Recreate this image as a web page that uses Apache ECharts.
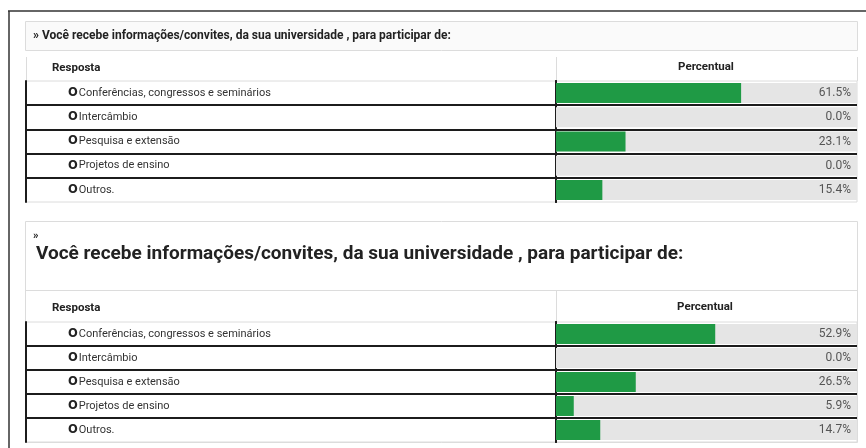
<!DOCTYPE html>
<html>
<head>
<meta charset="utf-8">
<script src="https://cdn.jsdelivr.net/npm/echarts@6/dist/echarts.min.js"></script>
<style>
html,body{margin:0;padding:0;background:#fff;}
#chart{width:866px;height:448px;}
</style>
</head>
<body>
<div id="chart"></div>
<script>
const categories = ['Conferências, congressos e seminários', 'Intercâmbio', 'Pesquisa e extensão', 'Projetos de ensino', 'Outros.'];
const valuesTop = [61.5, 0.0, 23.1, 0.0, 15.4];
const valuesBottom = [52.9, 0.0, 26.5, 5.9, 14.7];
const fullScale = [100, 100, 100, 100, 100];
const titleText = 'Você recebe informações/convites, da sua universidade , para participar de:';
const headerLeft = 'Resposta';
const headerRight = 'Percentual';

const FONT = 'Roboto, "Noto Sans", sans-serif';
const GREEN = '#1f9a45';
const TRACK = '#e5e5e5';
const DARK = '#1c1c1c';
const LIGHT = '#dcdcdc';

const chart = echarts.init(document.getElementById('chart'), null, {renderer: 'canvas'});

function leftY(gridIndex) {
  return {
    type: 'category', gridIndex: gridIndex, data: categories, inverse: true,
    axisLine: {show: true, lineStyle: {color: DARK, width: 2}},
    axisTick: {show: false},
    axisLabel: {
      inside: true, margin: 42, fontFamily: FONT,
      formatter: v => '{o|O}{t|' + v + '}',
      rich: {
        o: {fontFamily: 'DejaVu Sans', fontWeight: 'bold', fontSize: 11.5, color: '#222', padding: [0, 1, 0, 0]},
        t: {fontFamily: FONT, fontSize: 11, color: '#333'}
      }
    },
    splitLine: {show: true, lineStyle: {color: ['transparent', DARK, DARK, DARK, DARK, 'transparent'], width: 2}}
  };
}
function rightY(gridIndex) {
  return {
    type: 'category', gridIndex: gridIndex, data: categories, inverse: true,
    axisLine: {show: true, lineStyle: {color: DARK, width: 2}},
    axisTick: {show: false}, axisLabel: {show: false},
    splitLine: {show: true, lineStyle: {color: ['transparent', DARK, DARK, DARK, DARK, 'transparent'], width: 2}}
  };
}
function rightEdgeY(gridIndex) {
  return {
    type: 'category', gridIndex: gridIndex, data: categories, inverse: true, position: 'right',
    axisLine: {show: true, lineStyle: {color: DARK, width: 2}},
    axisTick: {show: false}, axisLabel: {show: false}, splitLine: {show: false}
  };
}
function hiddenX(gridIndex) {
  return {type: 'value', gridIndex: gridIndex, min: 0, max: 100, show: false, splitLine: {show: false}};
}
function trackSeries(axisIdx, vals) {
  return {
    type: 'bar', xAxisIndex: axisIdx, yAxisIndex: axisIdx, data: fullScale, barWidth: 20, barGap: '-100%',
    itemStyle: {color: TRACK}, silent: true,
    label: {show: true, position: 'insideRight', distance: 6, fontFamily: FONT, fontSize: 12, color: '#555',
      formatter: p => vals[p.dataIndex].toFixed(1) + '%'}
  };
}
function valueSeries(axisIdx, vals) {
  return {
    type: 'bar', xAxisIndex: axisIdx, yAxisIndex: axisIdx, data: vals, barWidth: 20, barGap: '-100%',
    itemStyle: {color: GREEN}, silent: true
  };
}

const gridBorder = {show: true, borderColor: LIGHT, borderWidth: 1, backgroundColor: 'transparent'};

const option = {
  animation: false,
  backgroundColor: '#fff',
  grid: [
    Object.assign({left: 26, top: 81, width: 530, height: 121}, gridBorder),
    Object.assign({left: 556, top: 81, width: 301, height: 121}, gridBorder),
    Object.assign({left: 26, top: 322, width: 530, height: 120}, gridBorder),
    Object.assign({left: 556, top: 322, width: 301, height: 120}, gridBorder)
  ],
  xAxis: [hiddenX(0), hiddenX(1), hiddenX(2), hiddenX(3), hiddenX(1), hiddenX(3)],
  yAxis: [leftY(0), rightY(1), leftY(2), rightY(3), rightEdgeY(1), rightEdgeY(3)],
  series: [
    trackSeries(1, valuesTop), valueSeries(1, valuesTop),
    trackSeries(3, valuesBottom), valueSeries(3, valuesBottom)
  ],
  graphic: [
    {type: 'line', shape: {x1: 8, y1: 11, x2: 866, y2: 11}, style: {stroke: '#333', lineWidth: 1.5}},
    {type: 'line', shape: {x1: 9, y1: 11, x2: 9, y2: 448}, style: {stroke: '#333', lineWidth: 1.5}},
    {type: 'rect', shape: {x: 25.5, y: 21.5, width: 832, height: 29}, style: {fill: '#fafafa', stroke: LIGHT, lineWidth: 1}},
    {type: 'text', x: 33, y: 36, style: {text: '» ' + titleText, font: 'bold 12px ' + FONT, fill: '#222', textVerticalAlign: 'middle'}},
    {type: 'line', shape: {x1: 26.5, y1: 57, x2: 26.5, y2: 81}, style: {stroke: LIGHT, lineWidth: 1}},
    {type: 'line', shape: {x1: 556.5, y1: 57, x2: 556.5, y2: 81}, style: {stroke: LIGHT, lineWidth: 1}},
    {type: 'line', shape: {x1: 857.5, y1: 57, x2: 857.5, y2: 81}, style: {stroke: LIGHT, lineWidth: 1}},
    {type: 'text', x: 52, y: 68, style: {text: headerLeft, font: 'bold 11.5px ' + FONT, fill: '#222', textVerticalAlign: 'middle'}},
    {type: 'text', x: 706, y: 67, style: {text: headerRight, font: 'bold 11.5px ' + FONT, fill: '#222', textAlign: 'center', textVerticalAlign: 'middle'}},
    {type: 'rect', shape: {x: 25.5, y: 221.5, width: 832, height: 221}, style: {fill: 'none', stroke: LIGHT, lineWidth: 1}},
    {type: 'line', shape: {x1: 26, y1: 290.5, x2: 858, y2: 290.5}, style: {stroke: LIGHT, lineWidth: 1}},
    {type: 'line', shape: {x1: 556.5, y1: 290, x2: 556.5, y2: 322}, style: {stroke: LIGHT, lineWidth: 1}},
    {type: 'text', x: 33, y: 236, style: {text: '»', font: 'bold 11px ' + FONT, fill: '#222', textVerticalAlign: 'middle'}},
    {type: 'text', x: 36, y: 254, style: {text: titleText, font: 'bold 19px ' + FONT, fill: '#222', textVerticalAlign: 'middle'}},
    {type: 'text', x: 52, y: 308, style: {text: headerLeft, font: 'bold 11.5px ' + FONT, fill: '#222', textVerticalAlign: 'middle'}},
    {type: 'text', x: 705, y: 307, style: {text: headerRight, font: 'bold 11.5px ' + FONT, fill: '#222', textAlign: 'center', textVerticalAlign: 'middle'}}
  ]
};
chart.setOption(option);
</script>
</body>
</html>
